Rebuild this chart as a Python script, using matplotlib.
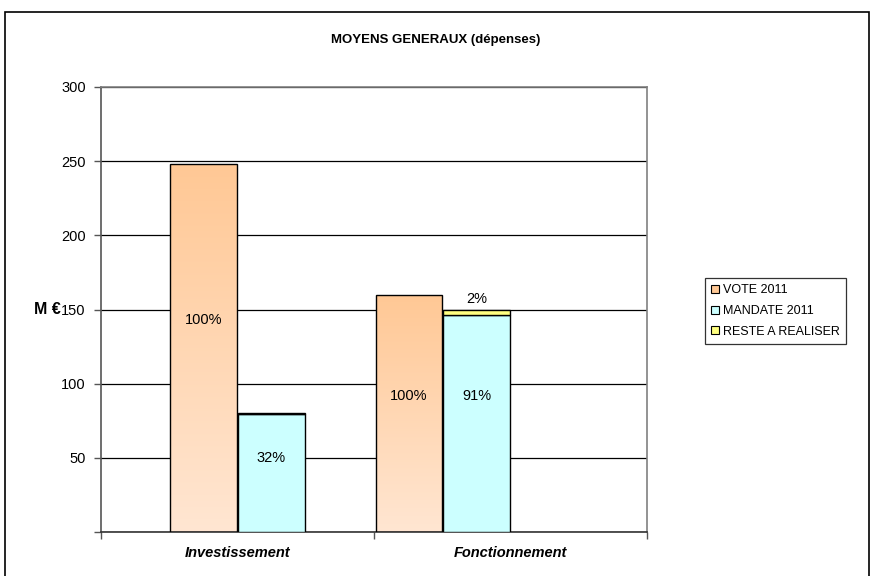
import numpy as np
import matplotlib
matplotlib.use("Agg")
import matplotlib.pyplot as plt
from matplotlib.patches import Rectangle
from matplotlib.colors import LinearSegmentedColormap

plt.rcParams['font.family'] = ['Liberation Sans', 'DejaVu Sans']

# Data (millions of euros)
categories = ["Investissement", "Fonctionnement"]
series_names = ["VOTE 2011", "MANDATE 2011", "RESTE A REALISER"]
vote = [248.0, 160.0]
mandate = [79.5, 146.5]
reste = [0.8, 3.3]
vote_pct = ["100%", "100%"]
mandate_pct = ["32%", "91%"]
reste_pct = ["", "2%"]
yticks = [50, 100, 150, 200, 250, 300]

# Layout / style
W, H = 872, 576
fig = plt.figure(figsize=(W / 100, H / 100), dpi=100)
ax = fig.add_axes([101 / W, 1 - 532 / H, (647 - 101) / W, (532 - 87) / H])

bar_w = 0.245
# bar centres inside each category slot (second group sits left of its slot)
vote_off = [-0.1245, -0.372]
mand_off = [0.123, -0.123]
centers = np.arange(len(categories)) + 0.5

orange_top = "#FFC895"
orange_bot = "#FFE6D2"
cyan = "#CCFFFF"
yellow = "#FFFF80"

vx = centers + np.array(vote_off)
mx = centers + np.array(mand_off)

vote_bars = ax.bar(vx, vote, width=bar_w, facecolor="none", edgecolor="black", linewidth=1.0, zorder=3)
grad = LinearSegmentedColormap.from_list("peach", [orange_bot, orange_top])
for b in vote_bars:
    x0, y0 = b.get_x(), b.get_y()
    w, h = b.get_width(), b.get_height()
    g = np.linspace(0, 1, 256).reshape(-1, 1)
    im = ax.imshow(g, cmap=grad, origin="lower", aspect="auto",
                   extent=(x0, x0 + w, y0, y0 + h), zorder=2)
    im.set_clip_path(b)

mand_bars = ax.bar(mx, mandate, width=bar_w, color=cyan, edgecolor="black", linewidth=1.0, zorder=3)
reste_bars = ax.bar(mx, reste, bottom=mandate, width=bar_w, color=yellow, edgecolor="black", linewidth=1.0, zorder=3)

# percentage labels
for x, v, t in zip(vx, vote, vote_pct):
    ax.text(x, v * 0.575, t, ha="center", va="center", fontsize=10.5, zorder=5)
for x, v, t in zip(mx, mandate, mandate_pct):
    ax.text(x, v * 0.625, t, ha="center", va="center", fontsize=10.5, zorder=5)
for x, m, r, t in zip(mx, mandate, reste, reste_pct):
    if t:
        ax.annotate(t, (x, m + r), xytext=(0, 8), textcoords="offset points",
                    ha="center", va="center", fontsize=10.5, zorder=5)

ax.set_xlim(0, len(categories))
ax.set_ylim(0, 300)
ax.set_yticks([0] + yticks)
ax.set_yticklabels([""] + [str(v) for v in yticks], fontsize=10.5)
ax.yaxis.grid(True, color="black", linewidth=0.9, zorder=1)
ax.set_axisbelow(True)

ax.set_xticks(np.arange(len(categories) + 1))
ax.set_xticklabels([])
ax.set_xticks(centers, minor=True)
ax.set_xticklabels(categories, minor=True, fontsize=10.5, fontweight="bold", fontstyle="italic")
ax.tick_params(axis="x", which="minor", length=0, pad=10)
ax.tick_params(axis="x", which="major", length=5, width=1, color="#555555")
ax.tick_params(axis="y", length=5, width=1, color="#555555", pad=6)

for side in ["top", "right"]:
    ax.spines[side].set_color("#808080")
    ax.spines[side].set_linewidth(1.2)
ax.spines["left"].set_color("#555555")
ax.spines["left"].set_linewidth(1.2)
ax.spines["bottom"].set_color("#333333")
ax.spines["bottom"].set_linewidth(1.2)

ax.set_ylabel("M €", rotation=0, fontsize=11.5, fontweight="bold", va="center", ha="center")
ax.yaxis.set_label_coords((47 - 101) / (647 - 101), (532 - 309) / (532 - 87))

fig.text(436 / W, 1 - 40 / H, "MOYENS GENERAUX (dépenses)", ha="center", va="center",
         fontsize=9.5, fontweight="bold")

# legend
handles = [Rectangle((0, 0), 1, 1, facecolor=orange_top, edgecolor="black", linewidth=0.8),
           Rectangle((0, 0), 1, 1, facecolor=cyan, edgecolor="black", linewidth=0.8),
           Rectangle((0, 0), 1, 1, facecolor=yellow, edgecolor="black", linewidth=0.8)]
leg = fig.legend(handles, series_names, loc="upper left", bbox_to_anchor=(705 / W, 1 - 278 / H),
                 fontsize=9, frameon=True, fancybox=False, shadow=False,
                 handlelength=0.6, handleheight=0.6, handletextpad=0.3,
                 labelspacing=0.7, borderpad=0.5, borderaxespad=0)
leg.get_frame().set_edgecolor("black")
leg.get_frame().set_linewidth(0.9)

# chart border
fig.patches.append(Rectangle((5 / W, -0.01), (869 - 5) / W, 1 - 12 / H + 0.01,
                             transform=fig.transFigure, fill=False,
                             edgecolor="black", linewidth=1.2))

fig.savefig("out.png", dpi=100)
